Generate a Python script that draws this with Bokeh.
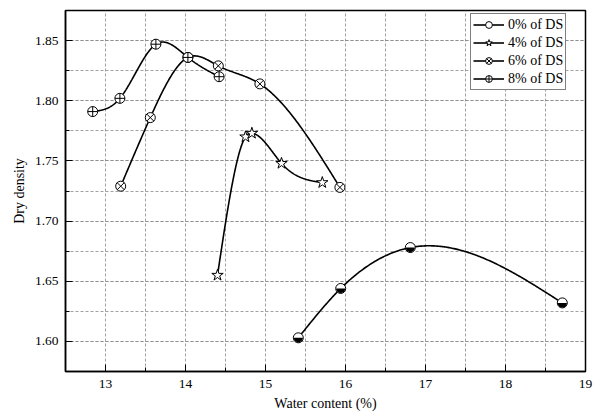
import numpy as np
from bokeh.plotting import figure
from bokeh.models import (FixedTicker, PrintfTickFormatter, Legend, LegendItem, Range1d)
from bokeh.embed import file_html
from bokeh.resources import INLINE

# ---- data ----
x_0 = [15.41, 15.94, 16.81, 18.71]
y_0 = [1.603, 1.644, 1.678, 1.632]

x_4 = [14.40, 14.75, 14.83, 15.20, 15.71]
y_4 = [1.655, 1.770, 1.773, 1.748, 1.732]

x_6 = [13.19, 13.56, 14.03, 14.41, 14.93, 15.93]
y_6 = [1.729, 1.786, 1.836, 1.829, 1.814, 1.728]

x_8 = [12.84, 13.18, 13.63, 14.03, 14.42]
y_8 = [1.791, 1.802, 1.847, 1.836, 1.820]

labels = ["0% of DS", "4% of DS", "6% of DS", "8% of DS"]
x_ticks = [13, 14, 15, 16, 17, 18, 19]
y_ticks = [1.60, 1.65, 1.70, 1.75, 1.80, 1.85]

FONT = "Liberation Serif"


def natural_spline(xs, ys, n=250):
    """Smooth connecting curve through the data points (natural cubic spline)."""
    x = np.asarray(xs, float)
    y = np.asarray(ys, float)
    k = len(x)
    h = np.diff(x)
    A = np.zeros((k, k))
    b = np.zeros(k)
    A[0, 0] = 1
    A[-1, -1] = 1
    for i in range(1, k - 1):
        A[i, i - 1] = h[i - 1]
        A[i, i] = 2 * (h[i - 1] + h[i])
        A[i, i + 1] = h[i]
        b[i] = 6 * ((y[i + 1] - y[i]) / h[i] - (y[i] - y[i - 1]) / h[i - 1])
    M = np.linalg.solve(A, b)
    xx = np.linspace(x[0], x[-1], n)
    idx = np.clip(np.searchsorted(x, xx) - 1, 0, k - 2)
    x0, x1 = x[idx], x[idx + 1]
    hh = x1 - x0
    t0 = x1 - xx
    t1 = xx - x0
    yy = (M[idx] * t0 ** 3 / (6 * hh) + M[idx + 1] * t1 ** 3 / (6 * hh)
          + (y[idx] / hh - M[idx] * hh / 6) * t0
          + (y[idx + 1] / hh - M[idx + 1] * hh / 6) * t1)
    return xx, yy


p = figure(width=595, height=415, output_backend="svg", toolbar_location=None,
           x_range=Range1d(12.5, 19.0), y_range=Range1d(1.575, 1.875),
           min_border_left=65, min_border_right=10, min_border_top=10,
           min_border_bottom=44, background_fill_color="white",
           border_fill_color="white")

p.outline_line_color = "black"
p.outline_line_width = 1.5
p.outline_line_alpha = 1.0

# axes
p.xaxis.ticker = FixedTicker(ticks=x_ticks, minor_ticks=[t + 0.5 for t in [12] + x_ticks[:-1]])
p.yaxis.ticker = FixedTicker(ticks=y_ticks,
                             minor_ticks=[round(1.575 + 0.025 * i, 3) for i in range(13)])
p.yaxis.formatter = PrintfTickFormatter(format="%.2f")
for ax in (p.xaxis[0], p.yaxis[0]):
    ax.axis_line_color = "black"
    ax.axis_line_width = 1.5
    ax.major_tick_in = 7
    ax.major_tick_out = 0
    ax.minor_tick_in = 4
    ax.minor_tick_out = 0
    ax.major_tick_line_width = 1
    ax.major_label_text_font = FONT
    ax.major_label_text_font_size = "13.5px"
    ax.major_label_text_color = "black"
    ax.axis_label_text_font = FONT
    ax.axis_label_text_font_size = "14px"
    ax.axis_label_text_font_style = "normal"
    ax.axis_label_text_color = "black"
p.xaxis.axis_label = "Water content (%)"
p.yaxis.axis_label = "Dry density"
p.xaxis.major_label_standoff = 8
p.xaxis.axis_label_standoff = 5
p.yaxis.major_label_standoff = 7
p.yaxis.axis_label_standoff = 5

# grids (major and minor dashed gray)
for g in (p.xgrid[0], p.ygrid[0]):
    g.grid_line_color = "#8a8a8a"
    g.grid_line_dash = "3 2"
    g.grid_line_width = 0.8
    g.minor_grid_line_color = "#8a8a8a"
    g.minor_grid_line_dash = "3 2"
    g.minor_grid_line_width = 0.8

items = []

# 0% series: half-filled circles
cx, cy = natural_spline(x_0, y_0)
l0 = p.line(cx, cy, line_color="black", line_width=1.6)
s0 = p.scatter(x_0, y_0, marker="circle", size=10, fill_color="white",
               line_color="black", line_width=1)
w0 = p.wedge(x_0, y_0, radius=4.6, radius_units="screen", start_angle=np.pi,
             end_angle=2 * np.pi, fill_color="black", line_color=None)
items.append(LegendItem(label=labels[0], renderers=[l0, s0]))

# 4% series: stars
cx, cy = natural_spline(x_4, y_4)
l4 = p.line(cx, cy, line_color="black", line_width=1.6)
s4 = p.scatter(x_4, y_4, marker="star", size=12, fill_color="white",
               line_color="black", line_width=1)
items.append(LegendItem(label=labels[1], renderers=[l4, s4]))

# 6% series: circle with x
cx, cy = natural_spline(x_6, y_6)
l6 = p.line(cx, cy, line_color="black", line_width=1.6)
s6 = p.scatter(x_6, y_6, marker="circle_x", size=10, fill_color="white",
               line_color="black", line_width=1)
items.append(LegendItem(label=labels[2], renderers=[l6, s6]))

# 8% series: circle with cross
cx, cy = natural_spline(x_8, y_8)
l8 = p.line(cx, cy, line_color="black", line_width=1.6)
s8 = p.scatter(x_8, y_8, marker="circle_cross", size=10, fill_color="white",
               line_color="black", line_width=1)
items.append(LegendItem(label=labels[3], renderers=[l8, s8]))

legend = Legend(items=items, location=(405, 281))
legend.border_line_color = "black"
legend.border_line_width = 1.2
legend.background_fill_color = "white"
legend.background_fill_alpha = 1.0
legend.label_text_font = FONT
legend.label_text_font_size = "14px"
legend.label_text_color = "black"
legend.glyph_width = 31
legend.glyph_height = 17
legend.label_height = 17
legend.label_standoff = 4
legend.spacing = 1
legend.padding = 2
legend.margin = 0
p.add_layout(legend)

open("out.html", "w").write(file_html(p, INLINE))
